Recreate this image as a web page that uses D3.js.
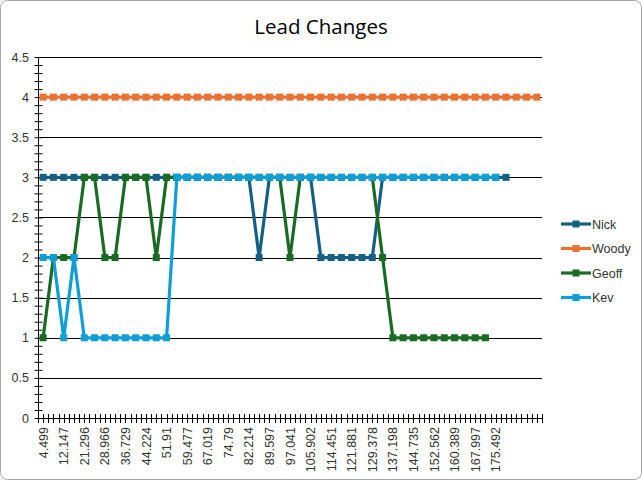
<!DOCTYPE html>
<html>
<head>
<meta charset="utf-8">
<script src="https://cdn.jsdelivr.net/npm/d3@7"></script>
<style>
  body { margin: 0; background: #fff; }
  svg { display: block; }
</style>
</head>
<body>
<svg id="chart" width="642" height="480"></svg>
<script>
// category count and the labels Excel shows (every second category)
const nCategories = 49;
const tickLabels = ["4.499", "12.147", "21.296", "28.966", "36.729", "44.224", "51.91",
  "59.477", "67.019", "74.79", "82.214", "89.597", "97.041", "105.902", "114.451",
  "121.881", "129.378", "137.198", "144.735", "152.562", "160.389", "167.997", "175.492"];
const labelStep = 2;

// positions per category
const nick = [3,3,3,3,3,3,3,3,3,3,3,3,3,3,3,3,3,3,3,3,3,2,3,3,3,3,3,2,2,2,2,2,2,3,3,3,3,3,3,3,3,3,3,3,3,3];
const woody = [4,4,4,4,4,4,4,4,4,4,4,4,4,4,4,4,4,4,4,4,4,4,4,4,4,4,4,4,4,4,4,4,4,4,4,4,4,4,4,4,4,4,4,4,4,4,4,4,4];
const geoff = [1,2,2,2,3,3,2,2,3,3,3,2,3,3,3,3,3,3,3,3,3,3,3,3,2,3,3,3,3,3,3,3,3,2,1,1,1,1,1,1,1,1,1,1];
const kev = [2,2,1,2,1,1,1,1,1,1,1,1,1,3,3,3,3,3,3,3,3,3,3,3,3,3,3,3,3,3,3,3,3,3,3,3,3,3,3,3,3,3,3,3,3];

const seriesNames = ["Nick", "Woody", "Geoff", "Kev"];
const seriesColors = ["#156082", "#E97132", "#196B24", "#0F9ED5"];
const seriesValues = [nick, woody, geoff, kev];

const svg = d3.select("#chart");
const W = 642, H = 480;
const plot = { left: 38, right: 542, top: 57, bottom: 418 };

// chart frame
svg.append("rect")
  .attr("x", 0.5).attr("y", 0.5)
  .attr("width", W - 1).attr("height", H - 1)
  .attr("rx", 7).attr("ry", 7)
  .attr("fill", "#fff")
  .attr("stroke", "#a6a6a6");

svg.append("text")
  .attr("x", 321).attr("y", 34)
  .attr("text-anchor", "middle")
  .attr("font-family", "'Open Sans', sans-serif")
  .attr("font-size", 20.5)
  .attr("fill", "#000")
  .text("Lead Changes");

const categories = d3.range(nCategories);
const x = d3.scaleBand().domain(categories).range([plot.left, plot.right]);
const xc = i => x(i) + x.bandwidth() / 2;
const y = d3.scaleLinear().domain([0, 4.5]).range([plot.bottom, plot.top]);

// gridlines
svg.append("g")
  .selectAll("line")
  .data(d3.range(0.5, 4.51, 0.5))
  .join("line")
  .attr("x1", plot.left).attr("x2", plot.right)
  .attr("y1", d => Math.round(y(d)) + 0.5).attr("y2", d => Math.round(y(d)) + 0.5)
  .attr("stroke", "#000").attr("stroke-width", 1);

// y axis: major labels, minor crossing ticks
const yAxis = svg.append("g")
  .attr("transform", `translate(${plot.left + 0.5},0)`)
  .call(d3.axisLeft(y).tickValues(d3.range(0, 4.51, 0.1)).tickSize(4).tickFormat(""));
yAxis.selectAll(".tick line").attr("x1", -4).attr("x2", 4).attr("stroke", "#000");
yAxis.select(".domain").attr("d", `M0,${plot.top}V${plot.bottom}`).attr("stroke", "#000");

svg.append("g")
  .selectAll("text")
  .data(d3.range(0, 4.51, 0.5))
  .join("text")
  .attr("x", 29).attr("y", d => y(d) + 4.5)
  .attr("text-anchor", "end")
  .attr("font-family", "'Liberation Sans', Arial, sans-serif")
  .attr("font-size", 12.5)
  .attr("fill", "#333")
  .text(d => d3.format("")(+d.toFixed(1)));

// x axis with crossing ticks every half category
const xg = svg.append("g");
xg.append("line")
  .attr("x1", plot.left).attr("x2", plot.right)
  .attr("y1", plot.bottom + 0.5).attr("y2", plot.bottom + 0.5)
  .attr("stroke", "#000");
const halfTicks = d3.range(0, nCategories * 2 + 1).map(k => plot.left + k * x.bandwidth() / 2);
xg.selectAll("line.t")
  .data(halfTicks)
  .join("line")
  .attr("class", "t")
  .attr("x1", d => Math.round(d) + 0.5).attr("x2", d => Math.round(d) + 0.5)
  .attr("y1", plot.bottom - 4).attr("y2", plot.bottom + 5)
  .attr("stroke", "#000");

xg.selectAll("text")
  .data(tickLabels)
  .join("text")
  .attr("transform", (d, i) => `translate(${xc(i * labelStep) + 4.5},${plot.bottom + 9}) rotate(-90)`)
  .attr("text-anchor", "end")
  .attr("font-family", "'Liberation Sans', Arial, sans-serif")
  .attr("font-size", 12.5)
  .attr("fill", "#333")
  .text(d => d);

// series
const line = d3.line().x((d, i) => xc(i)).y(d => y(d));
seriesValues.forEach((vals, s) => {
  const g = svg.append("g");
  g.append("path")
    .datum(vals)
    .attr("d", line)
    .attr("fill", "none")
    .attr("stroke", seriesColors[s])
    .attr("stroke-width", 3.2)
    .attr("stroke-linejoin", "round");
  g.selectAll("rect")
    .data(vals)
    .join("rect")
    .attr("x", (d, i) => xc(i) - 3.5)
    .attr("y", d => y(d) - 3.5)
    .attr("width", 7).attr("height", 7)
    .attr("fill", seriesColors[s]);
});

// legend
const legend = svg.append("g");
seriesNames.forEach((name, s) => {
  const ly = 224 + s * 24.5;
  legend.append("line")
    .attr("x1", 561).attr("x2", 591)
    .attr("y1", ly).attr("y2", ly)
    .attr("stroke", seriesColors[s]).attr("stroke-width", 3.2);
  legend.append("rect")
    .attr("x", 572.5).attr("y", ly - 3.5)
    .attr("width", 7).attr("height", 7)
    .attr("fill", seriesColors[s]);
  legend.append("text")
    .attr("x", 592).attr("y", ly + 4.5)
    .attr("font-family", "'Liberation Sans', Arial, sans-serif")
    .attr("font-size", 12.5)
    .attr("fill", "#333")
    .text(name);
});
</script>
</body>
</html>
